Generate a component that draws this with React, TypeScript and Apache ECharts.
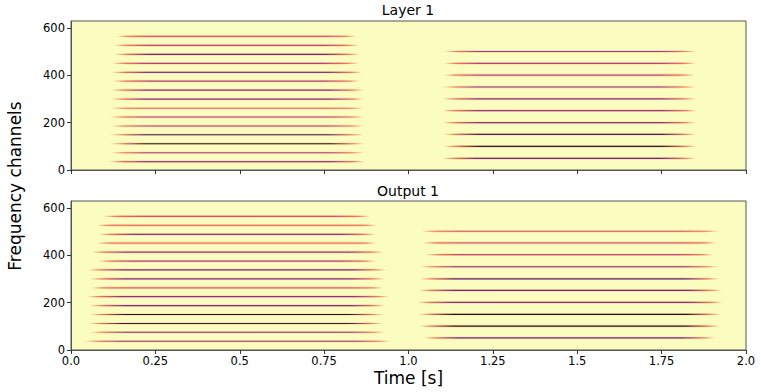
import React, { useEffect, useRef } from "react";
import * as echarts from "echarts";

// ---- axis ticks ----
const xTickValues = [0, 0.25, 0.5, 0.75, 1, 1.25, 1.5, 1.75, 2];
const xTickLabels = ["0.0", "0.25", "0.5", "0.75", "1.0", "1.25", "1.5", "1.75", "2.0"];
const yTickValues = [0, 200, 400, 600];
const timeMax = 2;
const freqMax = 630;

// ---- Layer 1 : first block (harmonics) ----
const l1aFreq = [35, 73, 111, 149, 186, 224, 261, 300, 338, 376, 413, 451, 489, 527, 565];
const l1aStart = [0.113, 0.119, 0.116, 0.116, 0.119, 0.116, 0.119, 0.119, 0.119, 0.125, 0.12, 0.122, 0.128, 0.128, 0.135];
const l1aEnd = [0.871, 0.868, 0.871, 0.868, 0.868, 0.868, 0.866, 0.868, 0.868, 0.856, 0.864, 0.853, 0.856, 0.854, 0.846];
const l1aLevel = [0.5, 0.48, 0.88, 0.74, 0.47, 0.5, 0.3, 0.58, 0.56, 0.44, 0.56, 0.45, 0.62, 0.42, 0.34];

// ---- Layer 1 : second block ----
const l1bFreq = [49, 100, 151, 200, 251, 301, 351, 401, 451, 501];
const l1bStart = [1.101, 1.104, 1.104, 1.101, 1.101, 1.101, 1.101, 1.105, 1.105, 1.105];
const l1bEnd = [1.852, 1.854, 1.852, 1.852, 1.855, 1.852, 1.852, 1.848, 1.852, 1.852];
const l1bLevel = [0.64, 0.8, 0.74, 0.55, 0.52, 0.56, 0.56, 0.42, 0.45, 0.52];

// ---- Output 1 : first block ----
const o1aFreq = [37, 75, 112, 150, 188, 226, 263, 301, 339, 376, 414, 452, 489, 527, 565];
const o1aStart = [0.041, 0.056, 0.051, 0.056, 0.056, 0.047, 0.061, 0.056, 0.051, 0.081, 0.061, 0.076, 0.081, 0.076, 0.096];
const o1aEnd = [0.947, 0.93, 0.925, 0.927, 0.93, 0.943, 0.925, 0.93, 0.935, 0.904, 0.927, 0.906, 0.904, 0.906, 0.886];
const o1aLevel = [0.52, 0.56, 0.8, 0.86, 0.6, 0.55, 0.32, 0.58, 0.6, 0.45, 0.52, 0.26, 0.55, 0.26, 0.36];

// ---- Output 1 : second block ----
const o1bFreq = [51, 101, 151, 201, 252, 301, 352, 403, 453, 502];
const o1bStart = [1.046, 1.032, 1.029, 1.026, 1.029, 1.034, 1.036, 1.052, 1.042, 1.039];
const o1bEnd = [1.908, 1.923, 1.925, 1.931, 1.928, 1.921, 1.918, 1.903, 1.913, 1.918];
const o1bLevel = [0.64, 0.86, 0.86, 0.56, 0.62, 0.68, 0.58, 0.42, 0.32, 0.36];

const MAGMA = [
  "#000004", "#140e36", "#3b0f70", "#641a80", "#8c2981", "#b73779",
  "#de4968", "#f7705c", "#fe9f6d", "#fecf92", "#fcfdbf",
];

function hexToRgb(h: string) {
  return [parseInt(h.slice(1, 3), 16), parseInt(h.slice(3, 5), 16), parseInt(h.slice(5, 7), 16)];
}
function magmaR(level: number, alpha = 1) {
  const t = Math.max(0, Math.min(1, 1 - level)) * 10;
  const i = Math.min(9, Math.floor(t));
  const f = t - i;
  const a = hexToRgb(MAGMA[i]);
  const b = hexToRgb(MAGMA[i + 1]);
  const c = a.map((v, k) => Math.round(v + (b[k] - v) * f));
  return `rgba(${c[0]},${c[1]},${c[2]},${alpha})`;
}

function rows(freq: number[], start: number[], end: number[], level: number[]) {
  return freq.map((f, i) => [start[i], end[i], f, level[i]]);
}

const renderItem = (params: any, api: any) => {
  const y = api.coord([0, api.value(2)])[1];
  const x0 = api.coord([api.value(0), 0])[0];
  const x1 = api.coord([api.value(1), 0])[0];
  const lvl = api.value(3);
  const w = x1 - x0;
  const f = Math.min(0.12, 16 / w);
  const core = magmaR(Math.min(1, lvl * 1.08 + 0.04));
  const edge = magmaR(0.3);
  const haloStops = [
    { offset: 0, color: magmaR(0.2, 0) },
    { offset: f, color: magmaR(0.2, 0.35) },
    { offset: 1 - f, color: magmaR(0.2, 0.35) },
    { offset: 1, color: magmaR(0.2, 0) },
  ];
  const coreStops = [
    { offset: 0, color: magmaR(0.3, 0) },
    { offset: f * 0.7, color: edge },
    { offset: f * 2.2, color: core },
    { offset: 1 - f * 2.2, color: core },
    { offset: 1 - f * 0.7, color: edge },
    { offset: 1, color: magmaR(0.3, 0) },
  ];
  const h = 1.3;
  return {
    type: "group",
    children: [
      {
        type: "polygon",
        shape: {
          points: [
            [x0, y],
            [x0 + w * f, y - h],
            [x1 - w * f, y - h],
            [x1, y],
            [x1 - w * f, y + h],
            [x0 + w * f, y + h],
          ],
        },
        style: { fill: new echarts.graphic.LinearGradient(x0, 0, x1, 0, haloStops, true) },
      },
      {
        type: "line",
        shape: { x1: x0, y1: y, x2: x1, y2: y },
        style: {
          stroke: new echarts.graphic.LinearGradient(x0, 0, x1, 0, coreStops, true),
          lineWidth: 1.2,
          opacity: 0.9,
        },
      },
    ],
  };
};

const FONT = "DejaVu Sans";

export default function App() {
  const ref = useRef<HTMLDivElement>(null);
  useEffect(() => {
    if (!ref.current) return;
    const chart = echarts.init(ref.current, undefined, { renderer: "svg" });
    const gridBase = {
      left: 71,
      width: 675,
      height: 149,
      show: true,
      backgroundColor: "#fbfcbf",
      borderColor: "#555",
      borderWidth: 1,
    };
    const xLabelFmt = (v: number) => {
      const i = xTickValues.findIndex((t) => Math.abs(t - v) < 1e-6);
      return i >= 0 ? xTickLabels[i] : "";
    };
    const mkX = (gi: number, showLabel: boolean) => ({
      type: "value",
      gridIndex: gi,
      min: 0,
      max: timeMax,
      interval: 0.25,
      axisLine: { show: true, lineStyle: { color: "#555", width: 1 } },
      axisTick: { show: true, length: 4, customValues: xTickValues, lineStyle: { color: "#333" } },
      axisLabel: {
        show: showLabel,
        customValues: xTickValues,
        formatter: xLabelFmt,
        fontFamily: FONT,
        fontSize: 11.5,
        color: "#000",
        margin: 5,
      },
      splitLine: { show: false },
      ...(showLabel
        ? {
            name: "Time [s]",
            nameLocation: "middle",
            nameGap: 19,
            nameTextStyle: { fontFamily: FONT, fontSize: 17, color: "#000" },
          }
        : {}),
    });
    const mkY = (gi: number) => ({
      type: "value",
      gridIndex: gi,
      min: 0,
      max: freqMax,
      axisLine: { show: true, lineStyle: { color: "#555", width: 1 } },
      axisTick: { show: true, length: 4, customValues: yTickValues, lineStyle: { color: "#333" } },
      axisLabel: {
        customValues: yTickValues,
        fontFamily: FONT,
        fontSize: 11.5,
        color: "#000",
        margin: 6,
      },
      splitLine: { show: false },
    });
    const option: any = {
      animation: false,
      grid: [
        { ...gridBase, top: 21 },
        { ...gridBase, top: 201 },
      ],
      xAxis: [mkX(0, false), mkX(1, true)],
      yAxis: [mkY(0), mkY(1)],
      graphic: [
        {
          type: "text",
          x: 408,
          y: 10,
          style: { text: "Layer 1", font: `14px '${FONT}'`, fill: "#000", align: "center", verticalAlign: "middle" },
        },
        {
          type: "text",
          x: 408,
          y: 191,
          style: { text: "Output 1", font: `14px '${FONT}'`, fill: "#000", align: "center", verticalAlign: "middle" },
        },
        {
          type: "text",
          x: 15,
          y: 186,
          rotation: Math.PI / 2,
          style: {
            text: "Frequency channels",
            font: `17px '${FONT}'`,
            fill: "#000",
            align: "center",
            verticalAlign: "middle",
          },
        },
      ],
      series: [
        {
          type: "custom",
          xAxisIndex: 0,
          yAxisIndex: 0,
          renderItem,
          encode: { x: [0, 1], y: 2 },
          data: [...rows(l1aFreq, l1aStart, l1aEnd, l1aLevel), ...rows(l1bFreq, l1bStart, l1bEnd, l1bLevel)],
        },
        {
          type: "custom",
          xAxisIndex: 1,
          yAxisIndex: 1,
          renderItem,
          encode: { x: [0, 1], y: 2 },
          data: [...rows(o1aFreq, o1aStart, o1aEnd, o1aLevel), ...rows(o1bFreq, o1bStart, o1bEnd, o1bLevel)],
        },
      ],
    };
    chart.setOption(option);
    return () => chart.dispose();
  }, []);
  return (
    <div
      ref={ref}
      style={{ position: "absolute", left: 0, top: 0, width: 761, height: 392 }}
    />
  );
}
